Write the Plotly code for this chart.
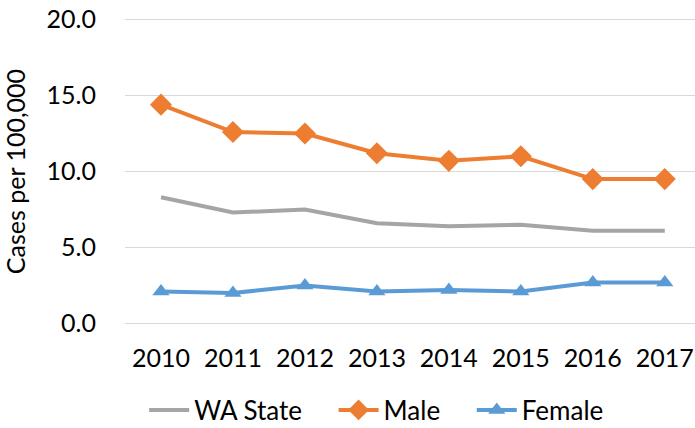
import plotly.graph_objects as go

years = ["2010", "2011", "2012", "2013", "2014", "2015", "2016", "2017"]
wa_state = [8.3, 7.3, 7.5, 6.6, 6.4, 6.5, 6.1, 6.1]
male = [14.4, 12.6, 12.5, 11.2, 10.7, 11.0, 9.5, 9.5]
female = [2.1, 2.0, 2.5, 2.1, 2.2, 2.1, 2.7, 2.7]
y_ticks = [0, 5, 10, 15, 20]
y_tick_labels = ["0.0", "5.0", "10.0", "15.0", "20.0"]
series_names = ["WA State", "Male", "Female"]

FONT = "Lato, 'Open Sans', sans-serif"
FS = 25
PAD = "\u00a0" * 4

fig = go.Figure()
fig.add_trace(go.Scatter(x=years, y=wa_state, name=series_names[0] + PAD, mode="lines",
                         line=dict(color="#A5A5A5", width=4)))
fig.add_trace(go.Scatter(x=years, y=male, name=series_names[1] + PAD, mode="lines+markers",
                         line=dict(color="#ED7D31", width=4),
                         marker=dict(symbol="diamond", size=17, color="#ED7D31")))
fig.add_trace(go.Scatter(x=years, y=female, name=series_names[2], mode="lines+markers",
                         line=dict(color="#5B9BD5", width=4),
                         marker=dict(symbol="triangle-up", size=15, color="#5B9BD5")))

fig.update_layout(
    width=695, height=428,
    margin=dict(l=125, r=0, t=15, b=100),
    paper_bgcolor="white", plot_bgcolor="white",
    font=dict(family=FONT, size=FS, color="#000000"),
    showlegend=True,
    legend=dict(orientation="h", xref="container", yref="container",
                x=0.542, xanchor="center", y=0.042, yanchor="middle",
                font=dict(size=26), itemwidth=40, tracegroupgap=0),
    xaxis=dict(type="category", range=[-0.5, 7.42], showgrid=False,
               zeroline=False, showline=False, ticks="outside",
               ticklen=8, tickcolor="rgba(0,0,0,0)", automargin=False,
               tickfont=dict(size=FS)),
    yaxis=dict(range=[-0.3, 20.3], tickvals=y_ticks, ticktext=y_tick_labels,
               showgrid=True, gridcolor="#D9D9D9", gridwidth=1,
               zeroline=False, showline=False, ticks="outside",
               ticklen=23, tickcolor="rgba(0,0,0,0)", automargin=False,
               tickfont=dict(size=FS),
               title=dict(text="Cases per 100,000", font=dict(size=FS), standoff=15)),
)

fig.write_html("out.html", config={"displayModeBar": False},
               post_script="document.body.style.margin='0';")
